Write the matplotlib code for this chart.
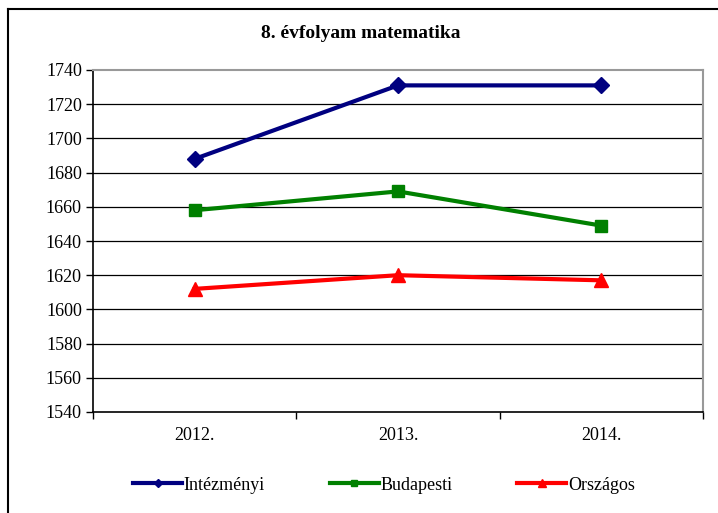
import matplotlib.pyplot as plt
from matplotlib.lines import Line2D

years = ["2012.", "2013.", "2014."]
intezmenyi = [1688, 1731, 1731]
budapesti = [1658, 1669, 1649]
orszagos = [1612, 1620, 1617]
y_ticks = list(range(1540, 1741, 20))

plt.rcParams["font.family"] = ["Liberation Serif", "DejaVu Serif"]

W, H = 718, 513
fig = plt.figure(figsize=(W / 100, H / 100), dpi=100)
fig.patch.set_facecolor("white")

# outer chart border (left and top visible, rest runs off the edge)
fig.add_artist(Line2D([8 / W, 8 / W], [0, 1 - 9 / H], color="black", lw=1.5))
fig.add_artist(Line2D([8 / W, 1], [1 - 9 / H, 1 - 9 / H], color="black", lw=1.5))

left, right, top, bottom = 93, 703, 70, 412
ax = fig.add_axes([left / W, 1 - bottom / H, (right - left) / W, (bottom - top) / H])

x = range(len(years))
ax.plot(x, intezmenyi, color="#000080", lw=3, marker="D", ms=8, label="Intézményi", zorder=3)
ax.plot(x, budapesti, color="#008000", lw=3, marker="s", ms=9, label="Budapesti", zorder=3)
ax.plot(x, orszagos, color="#ff0000", lw=3, marker="^", ms=10, label="Országos", zorder=3)

ax.set_xlim(-0.5, len(years) - 0.5)
ax.set_ylim(y_ticks[0], y_ticks[-1])
ax.set_yticks(y_ticks)
ax.set_xticks([i + 0.5 for i in range(-1, len(years))], minor=False)
ax.set_xticklabels([])
ax.set_xticks(list(x), minor=True)
ax.set_xticklabels(years, minor=True, fontsize=13)
ax.tick_params(axis="x", which="minor", length=0, pad=11)
ax.tick_params(axis="x", which="major", length=5, direction="out", width=1)
ax.tick_params(axis="y", length=5, direction="out", width=1, labelsize=13, pad=3)

for yv in y_ticks[1:-1]:
    ax.axhline(yv, color="black", lw=0.9, zorder=1)

ax.spines["top"].set_color("#999999")
ax.spines["right"].set_color("#999999")
ax.spines["top"].set_linewidth(1.5)
ax.spines["right"].set_linewidth(1.5)
ax.spines["left"].set_linewidth(1.2)
ax.spines["bottom"].set_linewidth(1.2)

fig.text(361 / W, 1 - 34 / H, "8. évfolyam matematika", ha="center", va="center",
         fontsize=14, fontweight="bold")

fig.legend(loc="center", bbox_to_anchor=(384 / W, 1 - 485 / H), ncol=3, frameon=False,
           fontsize=13, handlelength=2.7, handletextpad=0.1, columnspacing=3.6,
           markerscale=0.55)

fig.savefig("out.png", dpi=100)
